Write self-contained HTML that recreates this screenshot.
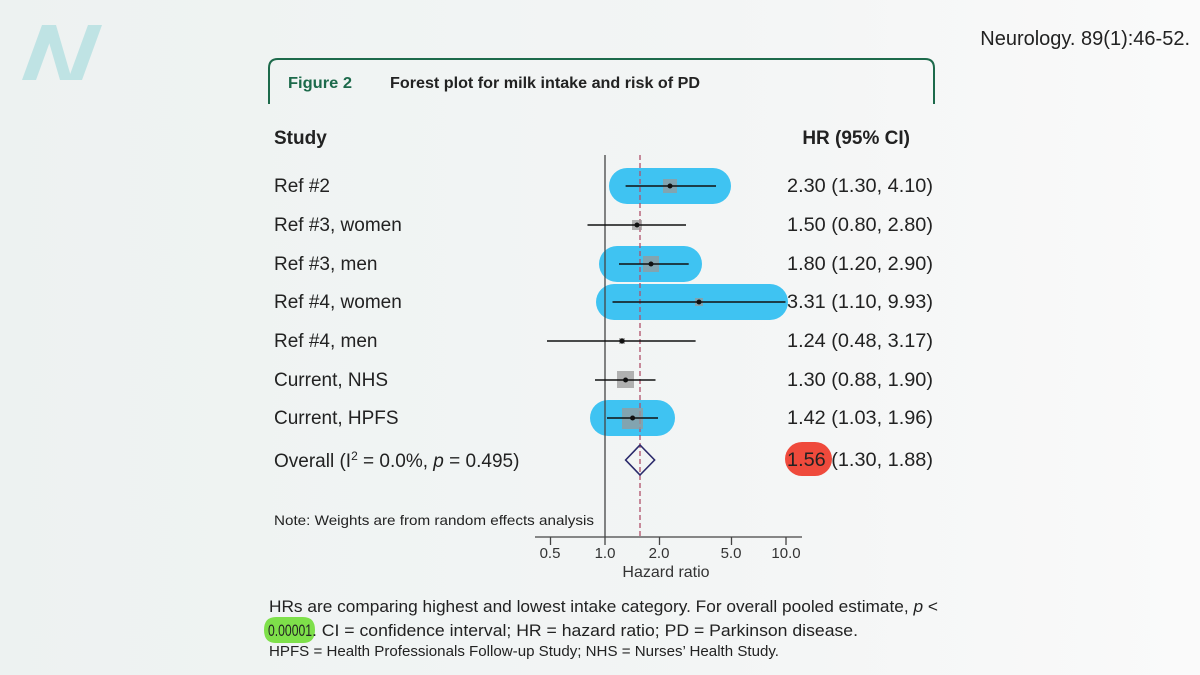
<!DOCTYPE html>
<html><head><meta charset="utf-8"><style>
html,body{margin:0;padding:0;}
body{width:1200px;height:675px;overflow:hidden;background:linear-gradient(90deg,#edf2f1 0%,#f3f5f5 60%,#fafafa 100%);}
svg{display:block;font-family:"Liberation Sans",sans-serif;}
</style></head><body>
<svg width="1200" height="675" viewBox="0 0 1200 675">
<!-- logo -->
<g fill="#bfe3e4">
<polygon points="22,80 42,25 56,25 36,80"/>
<polygon points="44,25 56,25 72,80 60,80"/>
<polygon points="68,80 88,25 102,25 82,80"/>
</g>
<text x="1190" y="45" text-anchor="end" font-size="20" fill="#222">Neurology. 89(1):46-52.</text>
<!-- header box -->
<path d="M269,104 V68 Q269,59 278,59 H925 Q934,59 934,68 V104" fill="none" stroke="#1d6a4b" stroke-width="2"/>
<text x="288" y="88" font-size="16" font-weight="bold" fill="#1d6a4b" textLength="64" lengthAdjust="spacingAndGlyphs">Figure 2</text>
<text x="390" y="88" font-size="16" font-weight="bold" fill="#222" textLength="310" lengthAdjust="spacingAndGlyphs">Forest plot for milk intake and risk of PD</text>
<text x="274" y="144" font-size="19" font-weight="bold" fill="#222">Study</text>
<text x="910" y="144" font-size="19" font-weight="bold" fill="#222" text-anchor="end">HR (95% CI)</text>
<!-- blue pills -->
<g fill="#3fc3f2">
<rect x="609" y="168" width="122" height="36" rx="18"/>
<rect x="599" y="246" width="103" height="36" rx="18"/>
<rect x="596" y="284" width="192" height="36" rx="18"/>
<rect x="590" y="400" width="85" height="36" rx="18"/>
</g>
<rect x="785" y="442" width="47" height="34" rx="17" fill="#ef4a3c"/>
<!-- axes -->
<line x1="605" y1="155" x2="605" y2="537" stroke="#444" stroke-width="1.3"/>
<line x1="640" y1="155" x2="640" y2="537" stroke="#b0506a" stroke-width="1.3" stroke-dasharray="5,3"/>
<line x1="535" y1="537" x2="802" y2="537" stroke="#444" stroke-width="1.3"/>
<g stroke="#444" stroke-width="1.3">
<line x1="550.5" y1="537" x2="550.5" y2="545"/><line x1="605" y1="537" x2="605" y2="545"/>
<line x1="659.5" y1="537" x2="659.5" y2="545"/><line x1="731.5" y1="537" x2="731.5" y2="545"/>
<line x1="786" y1="537" x2="786" y2="545"/>
</g>
<g font-size="15" fill="#333" text-anchor="middle">
<text x="550" y="558">0.5</text><text x="605" y="558">1.0</text><text x="659" y="558">2.0</text>
<text x="731" y="558">5.0</text><text x="786" y="558">10.0</text>
<text x="666" y="577" font-size="16">Hazard ratio</text>
</g>
<!-- squares -->
<g fill="#999" fill-opacity="0.75">
<rect x="663" y="179" width="14" height="14"/>
<rect x="632" y="220" width="10" height="10"/>
<rect x="643" y="256" width="16" height="16"/>
<rect x="695" y="298" width="8" height="8"/>
<rect x="619" y="338" width="6" height="6"/>
<rect x="617" y="371" width="17" height="17"/>
<rect x="622" y="408" width="21" height="21"/>
</g>
<!-- CIs -->
<g stroke="#111" stroke-width="1.6">
<line x1="625.6" y1="186" x2="716" y2="186"/>
<line x1="587.5" y1="225" x2="686" y2="225"/>
<line x1="619" y1="264" x2="688.7" y2="264"/>
<line x1="612.5" y1="302" x2="785.5" y2="302"/>
<line x1="547" y1="341" x2="695.6" y2="341"/>
<line x1="595" y1="380" x2="655.5" y2="380"/>
<line x1="607" y1="418" x2="658" y2="418"/>
</g>
<g fill="#111">
<circle cx="670" cy="186" r="2.5"/><circle cx="637" cy="225" r="2.5"/><circle cx="651" cy="264" r="2.5"/>
<circle cx="699" cy="302" r="2.5"/><circle cx="622" cy="341" r="2.5"/><circle cx="625.6" cy="380" r="2.5"/>
<circle cx="632.6" cy="418" r="2.5"/>
</g>
<polygon points="625.6,460 640,445 654.6,460 640,475" fill="none" stroke="#2b2a6b" stroke-width="1.6"/>
<!-- labels -->
<g font-size="19" fill="#222">
<text x="274" y="192">Ref #2</text>
<text x="274" y="231">Ref #3, women</text>
<text x="274" y="270">Ref #3, men</text>
<text x="274" y="308">Ref #4, women</text>
<text x="274" y="347">Ref #4, men</text>
<text x="274" y="386">Current, NHS</text>
<text x="274" y="424">Current, HPFS</text>
<text x="274" y="467">Overall (I<tspan font-size="12" dy="-7">2</tspan><tspan dy="7"> = 0.0%, </tspan><tspan font-style="italic">p</tspan> = 0.495)</text>
</g>
<g font-size="19" fill="#222">
<text x="787" y="192" textLength="146" lengthAdjust="spacingAndGlyphs">2.30 (1.30, 4.10)</text>
<text x="787" y="231" textLength="146" lengthAdjust="spacingAndGlyphs">1.50 (0.80, 2.80)</text>
<text x="787" y="270" textLength="146" lengthAdjust="spacingAndGlyphs">1.80 (1.20, 2.90)</text>
<text x="787" y="308" textLength="146" lengthAdjust="spacingAndGlyphs">3.31 (1.10, 9.93)</text>
<text x="787" y="347" textLength="146" lengthAdjust="spacingAndGlyphs">1.24 (0.48, 3.17)</text>
<text x="787" y="386" textLength="146" lengthAdjust="spacingAndGlyphs">1.30 (0.88, 1.90)</text>
<text x="787" y="424" textLength="146" lengthAdjust="spacingAndGlyphs">1.42 (1.03, 1.96)</text>
<text x="787" y="466" textLength="146" lengthAdjust="spacingAndGlyphs">1.56 (1.30, 1.88)</text>
</g>
<text x="274" y="525" font-size="14" fill="#222" textLength="320" lengthAdjust="spacingAndGlyphs">Note: Weights are from random effects analysis</text>
<!-- footer -->
<path d="M276,617 H303 Q315,617 315,630 Q315,643 303,643 H276 Q264,643 264,630 Q264,617 276,617Z" fill="#7ee04a"/>
<text x="269" y="612" font-size="17" fill="#222" textLength="669" lengthAdjust="spacingAndGlyphs">HRs are comparing highest and lowest intake category. For overall pooled estimate, <tspan font-style="italic">p</tspan> &lt;</text>
<text x="268" y="636" font-size="17" fill="#222" textLength="44" lengthAdjust="spacingAndGlyphs">0.00001</text>
<text x="312" y="636" font-size="17" fill="#222" textLength="546" lengthAdjust="spacingAndGlyphs">. CI = confidence interval; HR = hazard ratio; PD = Parkinson disease.</text>
<text x="269" y="656" font-size="15" fill="#222" textLength="510" lengthAdjust="spacingAndGlyphs">HPFS = Health Professionals Follow-up Study; NHS = Nurses’ Health Study.</text>
</svg>
</body></html>
